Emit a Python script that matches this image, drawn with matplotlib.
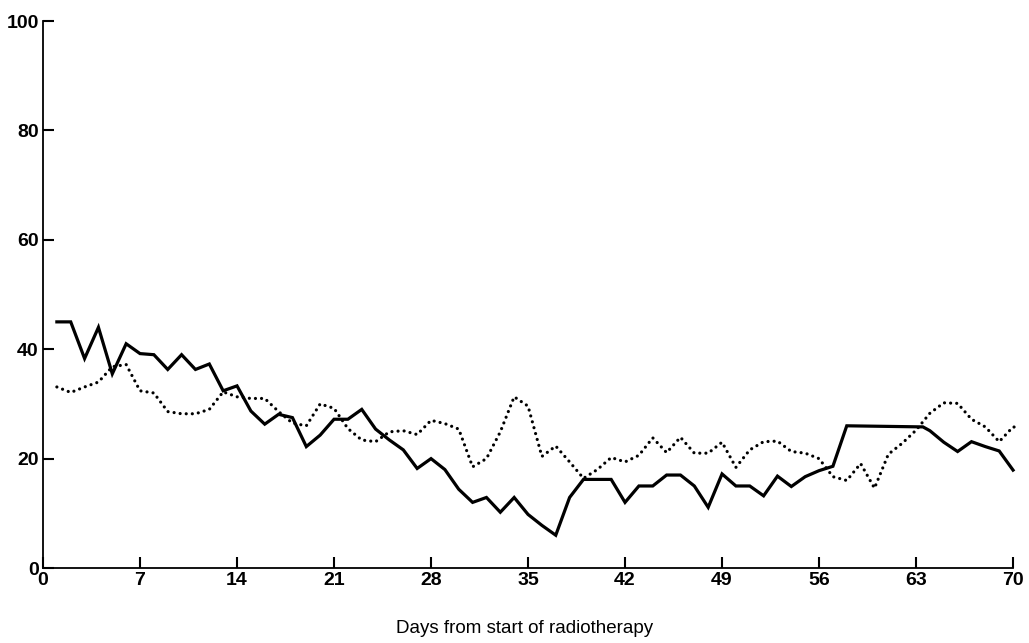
import matplotlib
matplotlib.use("Agg")
import matplotlib.pyplot as plt

# solid line (days, value)
solid_days = [1, 2, 3, 4, 5, 6, 7, 8, 9, 10, 11, 12, 13, 14, 15, 16, 17, 18, 19, 20,
              21, 22, 23, 24, 25, 26, 27, 28, 29, 30, 31, 32, 33, 34, 35, 36, 37, 38,
              39, 40, 41, 42, 43, 44, 45, 46, 47, 48, 49, 50, 51, 52, 53, 54, 55, 56,
              57, 58, 63.5, 64, 65, 66, 67, 68, 69, 70]
solid_vals = [45, 45, 38.3, 44, 35.5, 41, 39.2, 39, 36.3, 39, 36.3, 37.3, 32.4, 33.3,
              28.7, 26.3, 28.1, 27.5, 22.2, 24.3, 27.2, 27.2, 29, 25.4, 23.4, 21.6,
              18.2, 20, 18, 14.4, 12, 12.9, 10.2, 12.9, 9.8, 7.8, 6, 12.9, 16.2, 16.2,
              16.2, 12, 15, 15, 17, 17, 15, 11.1, 17.2, 15, 15, 13.2, 16.8, 14.9, 16.7,
              17.8, 18.6, 26, 25.8, 25.1, 23, 21.3, 23.1, 22.2, 21.4, 17.9]

# dotted line, one value per day
dot_days = list(range(1, 71))
dot_vals = [33.1, 32.1, 33.1, 34, 36.8, 37.2, 32.4, 32, 28.6, 28.2, 28.2, 29, 32.2,
            31.3, 31, 31, 28.6, 26.5, 26, 30, 29.2, 25.5, 23.4, 23.1, 24.9, 25.1, 24.4,
            27, 26.4, 25.4, 18.5, 20, 24.9, 31.3, 29.6, 20.4, 22.3, 19.4, 16.4, 18,
            20.2, 19.4, 20.6, 23.8, 21.1, 23.9, 21, 21, 23, 18.4, 21.6, 23.1, 23.2,
            21.3, 21, 20, 16.7, 16, 19.1, 14.6, 20.8, 22.8, 25.2, 28.3, 30.2, 30.1,
            27.2, 25.8, 23.1, 25.8]
dot_days.append(70.3)
dot_vals.append(25.7)

x_ticks = [0, 7, 14, 21, 28, 35, 42, 49, 56, 63, 70]
y_ticks = [0, 20, 40, 60, 80, 100]

plt.rcParams['font.family'] = ['Liberation Sans', 'DejaVu Sans']

fig = plt.figure(figsize=(10.29, 6.43), dpi=100)
ax = fig.add_axes([0.0418, 0.1166, 0.9427, 0.8507])

ax.plot(solid_days, solid_vals, color='black', lw=2.3, solid_joinstyle='miter',
        clip_on=False)
ax.plot(dot_days, dot_vals, color='black', lw=2.3, linestyle=(0, (0.01, 1.9)),
        dash_capstyle='round', clip_on=False)

ax.set_xlim(0, 70)
ax.set_ylim(0, 100)
ax.set_xticks(x_ticks)
ax.set_yticks(y_ticks)
ax.tick_params(direction='in', length=8, width=1.5, labelsize=14, pad=3)
for lab in ax.get_xticklabels() + ax.get_yticklabels():
    lab.set_fontweight('bold')
ax.spines['top'].set_visible(False)
ax.spines['right'].set_visible(False)
ax.spines['left'].set_linewidth(1.3)
ax.spines['bottom'].set_linewidth(1.3)

fig.text(0.51, 0.023, 'Days from start of radiotherapy', fontsize=13.5,
         ha='center', va='center')

fig.savefig('out.png', dpi=100)
